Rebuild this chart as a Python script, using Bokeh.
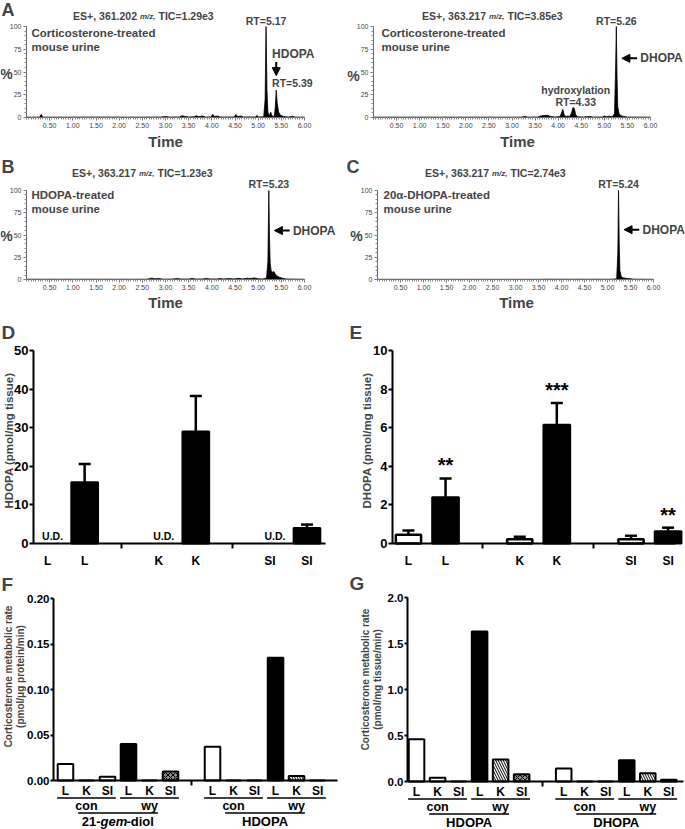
import math
from bokeh.plotting import figure
from bokeh.models import (Range1d, FixedTicker, Label, Arrow, NormalHead, Whisker, TeeHead,
                          ColumnDataSource, NumeralTickFormatter, LinearAxis)
from bokeh.layouts import column, row
from bokeh.embed import file_html
from bokeh.resources import INLINE
from bokeh.core.properties import value

FONT = "Liberation Sans"

# ---------------- chromatogram data (time, % intensity) ----------------
a1_time = [0.00, 0.28, 0.32, 0.35, 0.90, 1.50, 2.20, 2.90, 3.00, 3.08, 3.30, 3.36, 3.42, 3.50, 3.62,
           3.66, 3.72, 3.80, 3.86, 3.98, 4.02, 4.06, 4.12, 4.18, 4.48, 4.52, 4.56, 4.62, 4.68, 4.94,
           4.97, 5.01, 5.12, 5.15, 5.17, 5.19, 5.21, 5.24, 5.27, 5.30, 5.35, 5.37, 5.39, 5.41, 5.44,
           5.48, 5.55, 5.65, 5.74, 5.80, 6.00]
a1_pct = [0.4, 0.4, 3.5, 0.4, 0.4, 0.5, 0.4, 0.5, 1.0, 0.5, 0.6, 2.0, 1.2, 0.6, 0.8,
          1.8, 1.0, 1.6, 0.6, 0.6, 3.5, 1.0, 1.6, 0.6, 0.6, 3.2, 1.0, 1.6, 0.6, 0.6,
          2.2, 0.6, 0.8, 20, 100, 30, 6, 1.5, 6, 1.5, 1.5, 12, 30, 16, 6,
          2.5, 1.0, 0.6, 1.2, 0.5, 0.4]
a1_rt = [5.17, 5.39]

a2_time = [0.00, 3.20, 3.28, 3.34, 3.55, 3.62, 3.68, 3.76, 3.84, 3.92, 4.04, 4.08, 4.10, 4.13, 4.17,
           4.21, 4.25, 4.29, 4.32, 4.35, 4.38, 4.42, 4.55, 4.68, 4.76, 4.96, 5.00, 5.05, 5.10, 5.17,
           5.22, 5.245, 5.26, 5.275, 5.29, 5.32, 5.36, 5.42, 5.50, 6.00]
a2_pct = [0.4, 0.4, 1.2, 0.5, 0.5, 1.6, 2.2, 2.4, 1.2, 0.5, 1.0, 6, 9, 3, 1.0,
          1.6, 1.0, 5, 11, 10, 3, 0.8, 0.5, 1.2, 0.5, 0.6, 1.6, 0.8, 1.4, 0.8,
          4, 55, 100, 45, 12, 4, 2, 1.2, 0.5, 0.4]
a2_rt = [4.33, 5.26]

b_time = [0.00, 2.60, 2.70, 2.78, 2.85, 2.95, 3.15, 3.25, 3.35, 3.50, 3.58, 3.66, 3.80, 3.88, 3.96,
          4.10, 4.18, 4.26, 4.38, 4.48, 4.58, 4.66, 4.76, 4.84, 4.92, 5.00, 5.10, 5.18, 5.21, 5.23,
          5.245, 5.26, 5.28, 5.31, 5.34, 5.37, 5.41, 5.46, 5.52, 5.60, 5.70, 6.00]
b_pct = [0.3, 0.3, 1.5, 0.8, 1.2, 0.4, 0.5, 1.0, 0.5, 0.6, 1.1, 0.5, 0.6, 1.2, 0.6,
         0.6, 1.0, 0.6, 1.0, 0.6, 1.4, 0.6, 1.5, 1.0, 1.8, 0.8, 0.6, 1.5, 20, 100,
         45, 18, 10, 8, 9, 6, 4, 2.5, 1.5, 0.6, 0.5, 0.3]
b_rt = [5.23]

c_time = [0.00, 3.50, 3.70, 3.90, 4.50, 5.10, 5.20, 5.225, 5.24, 5.255, 5.27, 5.30, 5.35, 5.42,
          5.50, 5.58, 6.00]
c_pct = [0.2, 0.2, 0.4, 0.3, 0.3, 0.3, 0.8, 30, 100, 40, 10, 3, 1.8, 1.2, 0.8, 0.4, 0.2]
c_rt = [5.24]

chrom_titles = ["ES+, 361.202 m/z, TIC=1.29e3", "ES+, 363.217 m/z, TIC=3.85e3",
                "ES+, 363.217 m/z, TIC=1.23e3", "ES+, 363.217 m/z, TIC=2.74e3"]
chrom_samples = ["Corticosterone-treated\nmouse urine", "Corticosterone-treated\nmouse urine",
                 "HDOPA-treated\nmouse urine", "20α-DHOPA-treated\nmouse urine"]
time_ticks = [0.50, 1.00, 1.50, 2.00, 2.50, 3.00, 3.50, 4.00, 4.50, 5.00, 5.50, 6.00]
time_minor = [i / 20 for i in range(121)]
pct_ticks = [0, 25, 50, 75, 100]
pct_minor = list(range(0, 101, 5))

# ---------------- tissue bar data ----------------
tissues = ["L", "K", "SI"]
d_control_label = ["U.D.", "U.D.", "U.D."]
d_treated = [15.9, 29.0, 4.0]
d_treated_err = [20.6, 38.2, 4.9]
e_control = [0.45, 0.22, 0.22]
e_control_err = [0.67, 0.35, 0.40]
e_treated = [2.4, 6.15, 0.64]
e_treated_err = [3.37, 7.28, 0.82]
e_stars = ["**", "***", "**"]

treat_names = ["con", "wy"]
f_groups = ["21-gem-diol", "HDOPA"]
f_con = [[0.018, 0.0, 0.004], [0.037, 0.0, 0.0]]
f_wy = [[0.040, 0.0, 0.010], [0.135, 0.005, 0.0]]
g_groups = ["HDOPA", "DHOPA"]
g_con = [[0.46, 0.04, 0.0], [0.14, 0.0, 0.0]]
g_wy = [[1.63, 0.24, 0.08], [0.23, 0.09, 0.02]]

WY_FILL = ["black", "white", "#8a8a8a"]
WY_HATCH = [" ", "\\", "x"]

# layout grid (page pixels)
ROW_TOP = [0, 150, 312, 567]
ROW_H = [150, 162, 255, 262]
COL_LEFT = [0, 342]
COL_W = [342, 343]


class Panel:
    """A figure whose frame fills its whole canvas; axes sit at fixed data locations."""

    def __init__(self, r, c, xdata, xref, ydata, yref):
        self.w, self.h = COL_W[c], ROW_H[r]
        self.cx, self.cy = COL_LEFT[c], ROW_TOP[r]
        px0, px1 = xref[0] - self.cx, xref[1] - self.cx
        py0, py1 = yref[0] - self.cy, yref[1] - self.cy
        ux = (xdata[1] - xdata[0]) / (px1 - px0)
        uy = (ydata[1] - ydata[0]) / (py0 - py1)
        self.y0, self.py0, self.uy = ydata[0], py0, uy
        xr = (xdata[0] - px0 * ux, xdata[1] + (self.w - px1) * ux)
        yr = (ydata[0] - (self.h - py0) * uy, ydata[1] + py1 * uy)
        p = figure(width=self.w, height=self.h, x_range=Range1d(*xr), y_range=Range1d(*yr),
                   x_axis_location=None, y_axis_location=None,
                   output_backend="svg", toolbar_location=None)
        p.min_border_left = p.min_border_right = p.min_border_top = p.min_border_bottom = 0
        p.outline_line_color = None
        p.grid.visible = False
        p.background_fill_color = "white"
        self.p = p
        self.xa = LinearAxis(fixed_location=ydata[0], bounds=tuple(xdata))
        self.ya = LinearAxis(fixed_location=xdata[0], bounds=tuple(ydata))
        p.add_layout(self.xa, "below")
        p.add_layout(self.ya, "left")

    def ydata_at(self, yref):
        return self.y0 - ((yref - self.cy) - self.py0) * self.uy

    def note(self, xr, yr, text, size, align="left", baseline="middle", style="bold", angle=0.0,
             line_height=1.2):
        self.p.add_layout(Label(x=xr - self.cx, y=self.h - (yr - self.cy),
                                x_units="screen", y_units="screen", text=text, text_font=FONT,
                                text_font_size=f"{size}px", text_font_style=style,
                                text_align=align, text_baseline=baseline, angle=angle,
                                text_line_height=line_height))


def dlabel(p, x, y, text, size, align="center", baseline="middle"):
    p.add_layout(Label(x=x, y=y, text=text, text_font=FONT, text_font_size=f"{size}px",
                       text_font_style="bold", text_align=align, text_baseline=baseline))


def arrow(p, x0, y0, x1, y1):
    p.add_layout(Arrow(end=NormalHead(size=8, fill_color="black", line_color="black", line_width=1),
                       x_start=x0, y_start=y0, x_end=x1, y_end=y1, line_width=2, line_color="black"))


def chrom_panel(r, c, xref, yref, t, v):
    P = Panel(r, c, (0, 6), xref, (0, 100), yref)
    p = P.p
    src = ColumnDataSource(dict(t=t, v=v))
    p.varea(x="t", y1=0, y2="v", source=src, fill_color="black")
    p.line("t", "v", source=src, line_color="black", line_width=0.8)
    P.xa.ticker = FixedTicker(ticks=time_ticks, minor_ticks=time_minor)
    P.xa.formatter = NumeralTickFormatter(format="0.00")
    P.ya.ticker = FixedTicker(ticks=pct_ticks, minor_ticks=pct_minor)
    for ax in (P.xa, P.ya):
        ax.axis_line_color = "#666666"
        ax.major_tick_line_color = "#666666"
        ax.minor_tick_line_color = "#888888"
        ax.major_tick_in = 0
        ax.major_tick_out = 3
        ax.minor_tick_in = 0
        ax.minor_tick_out = 2
        ax.major_label_text_font_size = "7px"
        ax.major_label_text_color = "#444444"
        ax.major_label_text_font = FONT
        ax.major_label_standoff = 2
    return P


def title_note(P, cx, cy, title):
    # "ES+, 361.202 m/z, TIC=..." with the m/z part small and italic
    head, tail = title.split(" m/z, ")
    P.note(cx - 6.5, cy, head, 10.5, align="right")
    P.note(cx - 3.5, cy + 0.5, "m/z,", 8, style="bold italic")
    P.note(cx + 15, cy, tail, 10.5)


def chrom_notes(P, letter, letter_xy, title, title_xy, pct_xy, time_xy, sample, sample_xy):
    if letter:
        P.note(letter_xy[0], letter_xy[1], letter, 18)
    title_note(P, title_xy[0], title_xy[1], title)
    P.note(pct_xy[0], pct_xy[1], "%", 14, align="center")
    P.note(time_xy[0], time_xy[1], "Time", 15, align="center")
    P.note(sample_xy[0], sample_xy[1], sample, 11.5, baseline="top")


def dhopa_arrow(p, rt, y):
    arrow(p, rt + 0.45, y, rt + 0.12, y)
    dlabel(p, rt + 0.52, y, "DHOPA", 12, align="left")


# ---------------- Row 1: A ----------------
A1 = chrom_panel(0, 0, (26, 304), (117, 26), a1_time, a1_pct)
chrom_notes(A1, "A", (1, 9), chrom_titles[0], (143, 15), (6, 73), (165, 141),
            chrom_samples[0], (31, 26))
dlabel(A1.p, a1_rt[0], 100, "RT=" + f"{a1_rt[0]:.2f}", 10.5, baseline="bottom")
arrow(A1.p, a1_rt[1], 61, a1_rt[1], 46)
dlabel(A1.p, a1_rt[1] - 0.09, 70, "HDOPA", 12, align="left")
dlabel(A1.p, a1_rt[1] - 0.09, 38, "RT=" + f"{a1_rt[1]:.2f}", 10.5, align="left")

A2 = chrom_panel(0, 1, (373, 650), (117, 26), a2_time, a2_pct)
chrom_notes(A2, None, None, chrom_titles[1], (492, 15), (353, 75), (517, 141),
            chrom_samples[1], (381, 26))
dlabel(A2.p, a2_rt[1], 100, "RT=" + f"{a2_rt[1]:.2f}", 10.5, baseline="bottom")
dhopa_arrow(A2.p, a2_rt[1], 65)
dlabel(A2.p, a2_rt[0] + 0.05, 30, "hydroxylation", 10.5)
dlabel(A2.p, a2_rt[0] + 0.05, 16.5, "RT=" + f"{a2_rt[0]:.2f}", 10.5)

# ---------------- Row 2: B, C ----------------
B = chrom_panel(1, 0, (26, 304), (279, 190), b_time, b_pct)
chrom_notes(B, "B", (1, 166), chrom_titles[2], (142, 172), (6, 235), (165, 302),
            chrom_samples[2], (31, 188))
dlabel(B.p, b_rt[0], 101, "RT=" + f"{b_rt[0]:.2f}", 10.5, baseline="bottom")
dhopa_arrow(B.p, b_rt[0], 55)

C = chrom_panel(1, 1, (377, 653), (279, 190), c_time, c_pct)
chrom_notes(C, "C", (346, 166), chrom_titles[3], (495, 172), (356, 235), (516, 302),
            chrom_samples[3], (383, 188))
dlabel(C.p, c_rt[0], 101, "RT=" + f"{c_rt[0]:.2f}", 10.5, baseline="bottom")
dhopa_arrow(C.p, c_rt[0], 56)


# ---------------- bar-panel axis style ----------------
def style_bar_axes(P, yticks):
    for ax in (P.xa, P.ya):
        ax.axis_line_width = 2
        ax.axis_line_color = "black"
        ax.major_tick_line_width = 2
        ax.minor_tick_line_width = 2
        ax.major_label_text_font = FONT
        ax.major_label_text_font_style = "bold"
        ax.major_label_text_color = "black"
        ax.major_tick_in = 0
        ax.minor_tick_in = 0
    P.ya.ticker = FixedTicker(ticks=yticks)
    P.ya.major_tick_out = 4
    P.ya.minor_tick_out = 0
    P.ya.major_label_standoff = 1
    P.xa.major_tick_out = 0
    P.xa.major_tick_line_color = None
    P.xa.minor_tick_out = 5
    P.xa.major_label_text_font_size = "12px"


con_pos = [1 + 3 * i for i in range(3)]
tr_pos = [2 + 3 * i for i in range(3)]
pos_labels = {}
for i in range(3):
    pos_labels[con_pos[i]] = tissues[i]
    pos_labels[tr_pos[i]] = tissues[i]

# ---------------- Row 3: D, E ----------------
D = Panel(2, 0, (0.62, 8.5), (33, 325), (0, 50), (543, 350))
style_bar_axes(D, [0, 10, 20, 30, 40, 50])
D.ya.major_label_text_font_size = "13px"
D.xa.ticker = FixedTicker(ticks=con_pos + tr_pos, minor_ticks=[3, 6])
D.xa.major_label_overrides = pos_labels
D.xa.major_label_standoff = 5
srcD = ColumnDataSource(dict(x=tr_pos, top=d_treated, err=d_treated_err))
D.p.vbar(x="x", top="top", bottom=0, width=0.72, source=srcD, fill_color="black",
         line_color="black", line_width=2)
D.p.add_layout(Whisker(source=srcD, base="x", lower="top", upper="err", line_width=2.5,
                       line_color="black", lower_head=None,
                       upper_head=TeeHead(size=12, line_width=2.5, line_color="black")))
D.p.text(x=con_pos, y=0, text=d_control_label, x_offset=5, y_offset=-2, text_align="center",
         text_baseline="bottom", text_font=value(FONT), text_font_style="bold", text_font_size="10.5px")
D.note(1, 332, "D", 19)
D.note(8, 440, "HDOPA (pmol/mg tissue)", 11.5, align="center", angle=math.pi / 2)

E = Panel(2, 1, (0.57, 8.2), (392, 675), (0, 10), (543, 350))
style_bar_axes(E, [0, 2, 4, 6, 8, 10])
E.ya.major_label_text_font_size = "13px"
E.xa.ticker = FixedTicker(ticks=con_pos + tr_pos, minor_ticks=[3, 6])
E.xa.major_label_overrides = pos_labels
E.xa.major_label_standoff = 5
srcEc = ColumnDataSource(dict(x=con_pos, top=e_control, err=e_control_err))
srcEt = ColumnDataSource(dict(x=tr_pos, top=e_treated, err=e_treated_err, stars=e_stars))
E.p.vbar(x="x", top="top", bottom=0, width=0.68, source=srcEc, fill_color="white",
         line_color="black", line_width=2.5)
E.p.vbar(x="x", top="top", bottom=0, width=0.72, source=srcEt, fill_color="black",
         line_color="black", line_width=2)
for s in (srcEc, srcEt):
    E.p.add_layout(Whisker(source=s, base="x", lower="top", upper="err", line_width=2.5,
                           line_color="black", lower_head=None,
                           upper_head=TeeHead(size=12, line_width=2.5, line_color="black")))
E.p.text(x="x", y="err", text="stars", source=srcEt, y_offset=-2, text_align="center",
         text_baseline="bottom", text_font=value(FONT), text_font_style="bold",
         text_font_size="20px")
E.note(349, 332, "E", 19)
E.note(366, 440, "DHOPA (pmol/mg tissue)", 11.5, align="center", angle=math.pi / 2)


# ---------------- Row 4: F, G ----------------
def rate_panel(c, xdata, xref, ymax, yref, yticks, yfmt, groups, con_sets, wy_sets):
    P = Panel(3, c, xdata, xref, (0, ymax), yref)
    p = P.p
    xs, tops, fills, hatches = [], [], [], []
    for g in range(2):
        for t, vals in enumerate((con_sets[g], wy_sets[g])):
            for i, v in enumerate(vals):
                xs.append(1 + 7 * g + 3 * t + i)
                tops.append(v)
                fills.append("white" if t == 0 else WY_FILL[i])
                hatches.append(" " if t == 0 else WY_HATCH[i])
    src = ColumnDataSource(dict(x=xs, top=tops, fill=fills, hatch=hatches))
    p.vbar(x="x", top="top", bottom=0, width=0.74, source=src, fill_color="fill",
           hatch_pattern="hatch", hatch_color="black", hatch_scale=5, hatch_weight=1,
           line_color="black", line_width=2)
    style_bar_axes(P, yticks)
    P.ya.formatter = NumeralTickFormatter(format=yfmt)
    P.ya.major_label_text_font_size = "11.5px"
    P.ya.major_tick_out = 3
    P.xa.ticker = FixedTicker(ticks=[], minor_ticks=[7])
    y0 = yref[0]
    y_tis = P.ydata_at(y0 + 10.5)
    y_line1 = P.ydata_at(y0 + 17.5)
    y_treat = P.ydata_at(y0 + 25)
    y_line2 = P.ydata_at(y0 + 32.5)
    y_group = P.ydata_at(y0 + 40.5)
    p.text(x=xs, y=y_tis, text=[tissues[j % 3] for j in range(len(xs))], text_align="center",
           text_baseline="middle", text_font=value(FONT), text_font_style="bold",
           text_font_size="12px")
    l1x0, l1x1, tx, tt = [], [], [], []
    l2x0, l2x1, gx = [], [], []
    for g in range(2):
        for t in range(2):
            first = 1 + 7 * g + 3 * t
            l1x0.append(first - 0.4)
            l1x1.append(first + 2 + 0.4)
            tx.append(first + 1)
            tt.append(treat_names[t])
        cc = 1 + 7 * g + 2.5
        l2x0.append(cc - 1.9)
        l2x1.append(cc + 1.9)
        gx.append(cc)
    p.segment(x0=l1x0, y0=y_line1, x1=l1x1, y1=y_line1, line_color="black", line_width=1.5)
    p.segment(x0=l2x0, y0=y_line2, x1=l2x1, y1=y_line2, line_color="black", line_width=1.5)
    p.text(x=tx, y=y_treat, text=tt, text_align="center", text_baseline="middle",
           text_font=value(FONT), text_font_style="bold", text_font_size="12.5px")
    for g, name in enumerate(groups):
        if "-gem-" in name:
            a, b = name.split("-gem-")
            p.text(x=[gx[g]], y=y_group, text=[a + "-"], x_offset=-17.5, text_align="right",
                   text_baseline="middle", text_font=value(FONT), text_font_style="bold",
                   text_font_size="13px")
            p.text(x=[gx[g]], y=y_group, text=["gem"], x_offset=-17.5, text_align="left",
                   text_baseline="middle", text_font=value(FONT), text_font_style="bold italic",
                   text_font_size="13px")
            p.text(x=[gx[g]], y=y_group, text=["-" + b], x_offset=8.5, text_align="left",
                   text_baseline="middle", text_font=value(FONT), text_font_style="bold",
                   text_font_size="13px")
        else:
            p.text(x=[gx[g]], y=y_group, text=[name], text_align="center", text_baseline="middle",
                   text_font=value(FONT), text_font_style="bold", text_font_size="13px")
    return P


F = rate_panel(0, (0.43, 13.95), (53, 337), 0.20, (780, 598), [0, 0.05, 0.10, 0.15, 0.20], "0.00",
               f_groups, f_con, f_wy)
F.note(1, 584, "F", 19)
F.note(14, 676, "Corticosterone metabolic rate\n(pmol/μg protein/min)", 10, align="center",
       angle=math.pi / 2, line_height=1.05)

G = rate_panel(1, (0.57, 13.7), (407, 683), 2.0, (781, 597), [0, 0.5, 1.0, 1.5, 2.0], "0.0",
               g_groups, g_con, g_wy)
G.note(349, 583, "G", 19)
G.note(371, 679, "Corticosterone metabolic rate\n(pmol/mg tissue/min)", 10, align="center",
       angle=math.pi / 2, line_height=1.05)

layout = column(row(A1.p, A2.p), row(B.p, C.p), row(D.p, E.p), row(F.p, G.p))
open("out.html", "w").write(file_html(layout, INLINE))
